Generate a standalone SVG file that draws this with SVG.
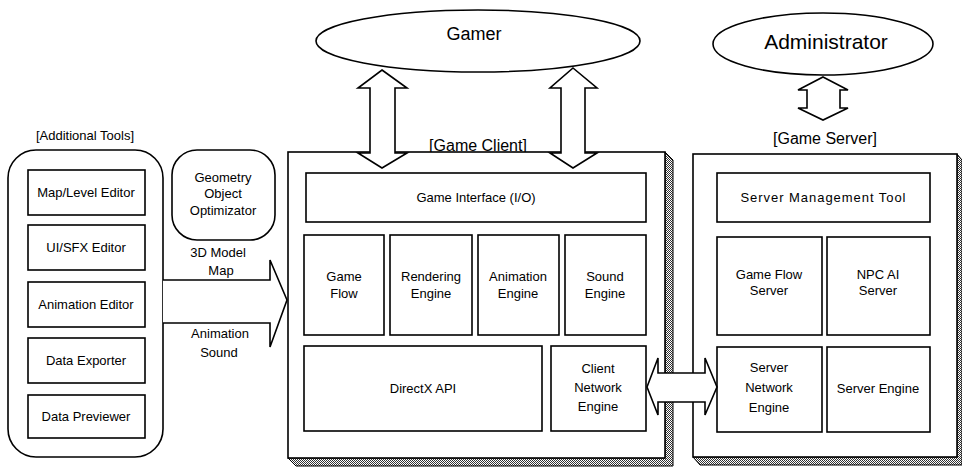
<svg xmlns="http://www.w3.org/2000/svg" width="962" height="467" viewBox="0 0 962 467">
<defs>
<pattern id="dots" width="2" height="2" patternUnits="userSpaceOnUse"><rect width="2" height="2" fill="#fff"/><rect width="1" height="1" fill="#333"/><rect x="1" y="1" width="1" height="1" fill="#333"/></pattern>
<style>
.b{fill:#fff;stroke:#000;stroke-width:1.6}
.sh{fill:url(#dots);stroke:#000;stroke-width:1}
.ar{fill:#fff;stroke:#000;stroke-width:1.6;stroke-linejoin:miter}
text{font-family:"Liberation Sans",Arial,sans-serif;fill:#000;text-anchor:middle}
.t{font-size:13px}
.l{font-size:16px}
.e{font-size:18px}
</style>
</defs>
<rect width="962" height="467" fill="#fff"/>

<g id="tools">
<text class="t" x="85" y="140">[Additional Tools]</text>
<rect class="b" x="8" y="150" width="155" height="307" rx="28"/>
<g id="map-level-editor"><rect class="b" x="28" y="170" width="117" height="45"/><text class="t" x="86" y="197">Map/Level Editor</text></g>
<g id="ui-sfx-editor"><rect class="b" x="28" y="225" width="117" height="45"/><text class="t" x="86" y="252">UI/SFX Editor</text></g>
<g id="animation-editor"><rect class="b" x="28" y="282" width="117" height="45"/><text class="t" x="86" y="309">Animation Editor</text></g>
<g id="data-exporter"><rect class="b" x="28" y="338" width="117" height="45"/><text class="t" x="86" y="365">Data Exporter</text></g>
<g id="data-previewer"><rect class="b" x="28" y="395" width="117" height="43"/><text class="t" x="86" y="421">Data Previewer</text></g>
</g>

<g id="optimizer">
<rect class="b" x="172" y="150" width="103" height="90" rx="25"/>
<text class="t" x="223" y="182">Geometry</text>
<text class="t" x="223" y="198">Object</text>
<text class="t" x="223" y="215">Optimizator</text>
</g>

<g id="gamer">
<ellipse class="b" cx="478" cy="41" rx="162" ry="31"/>
<text class="e" x="474" y="40">Gamer</text>
</g>

<g id="administrator">
<ellipse class="b" cx="823" cy="44" rx="110" ry="31"/>
<text class="e" x="826" y="49" style="font-size:21px">Administrator</text>
</g>

<g id="game-client">
<text class="l" x="478" y="151">[Game Client]</text>
<path class="sh" d="M665,152 L673,160 L673,466 L296,466 L288,458 L665,458 Z"/>
<rect class="b" x="288" y="152" width="377" height="306"/>
<g id="game-interface"><rect class="b" x="306" y="173" width="340" height="49"/><text class="t" x="476" y="202">Game Interface (I/O)</text></g>
<g id="game-flow"><rect class="b" x="304" y="235" width="80" height="100"/><text class="t" x="344" y="281">Game</text><text class="t" x="344" y="298">Flow</text></g>
<g id="rendering-engine"><rect class="b" x="390" y="235" width="82" height="100"/><text class="t" x="431" y="281">Rendering</text><text class="t" x="431" y="298">Engine</text></g>
<g id="animation-engine"><rect class="b" x="478" y="235" width="81" height="100"/><text class="t" x="518" y="281">Animation</text><text class="t" x="518" y="298">Engine</text></g>
<g id="sound-engine"><rect class="b" x="565" y="235" width="81" height="100"/><text class="t" x="605" y="281">Sound</text><text class="t" x="605" y="298">Engine</text></g>
<g id="directx-api"><rect class="b" x="304" y="346" width="238" height="85"/><text class="t" x="423" y="393">DirectX API</text></g>
<g id="client-network-engine"><rect class="b" x="551" y="346" width="95" height="85"/><text class="t" x="598" y="373">Client</text><text class="t" x="598" y="392">Network</text><text class="t" x="598" y="411">Engine</text></g>
</g>

<g id="game-server">
<text class="l" x="825" y="144">[Game Server]</text>
<path class="sh" d="M957,154 L962,160 L962,465 L700,465 L693,457 L957,457 Z"/>
<rect class="b" x="693" y="154" width="264" height="303"/>
<g id="server-management-tool"><rect class="b" x="717" y="173" width="213" height="49"/><text class="t" x="823" y="202" textLength="165">Server Management Tool</text></g>
<g id="game-flow-server"><rect class="b" x="717" y="237" width="105" height="98"/><text class="t" x="769" y="279">Game Flow</text><text class="t" x="769" y="295">Server</text></g>
<g id="npc-ai-server"><rect class="b" x="827" y="237" width="103" height="98"/><text class="t" x="878" y="279">NPC AI</text><text class="t" x="878" y="295">Server</text></g>
<g id="server-network-engine"><rect class="b" x="717" y="347" width="105" height="85"/><text class="t" x="769" y="372">Server</text><text class="t" x="769" y="392">Network</text><text class="t" x="769" y="412">Engine</text></g>
<g id="server-engine"><rect class="b" x="827" y="347" width="103" height="85"/><text class="t" x="878" y="393">Server Engine</text></g>
</g>

<g id="connectors">
<path class="ar" d="M382,70 L407,88 L395,88 L395,153 L407,153 L382,168 L358,153 L370,153 L370,88 L358,88 Z"/>
<path class="ar" d="M573,68 L597,88 L585,88 L585,153 L597,153 L573,168 L550,153 L561,153 L561,88 L550,88 Z"/>
<path class="ar" d="M823,77 L848,90 L840,90 L840,108 L848,108 L823,120 L798,108 L807,108 L807,90 L798,90 Z"/>
<path class="ar" d="M647,387 L658,358 L658,373 L705,373 L705,358 L717,387 L705,415 L705,402 L658,402 L658,415 Z"/>
<path class="ar" d="M163,280 L270,280 L270,260 L287,300 L270,347 L270,323 L163,323"/>
<text class="t" x="218" y="257">3D Model</text>
<text class="t" x="221" y="275">Map</text>
<text class="t" x="220" y="338">Animation</text>
<text class="t" x="219" y="357">Sound</text>
</g>
</svg>
